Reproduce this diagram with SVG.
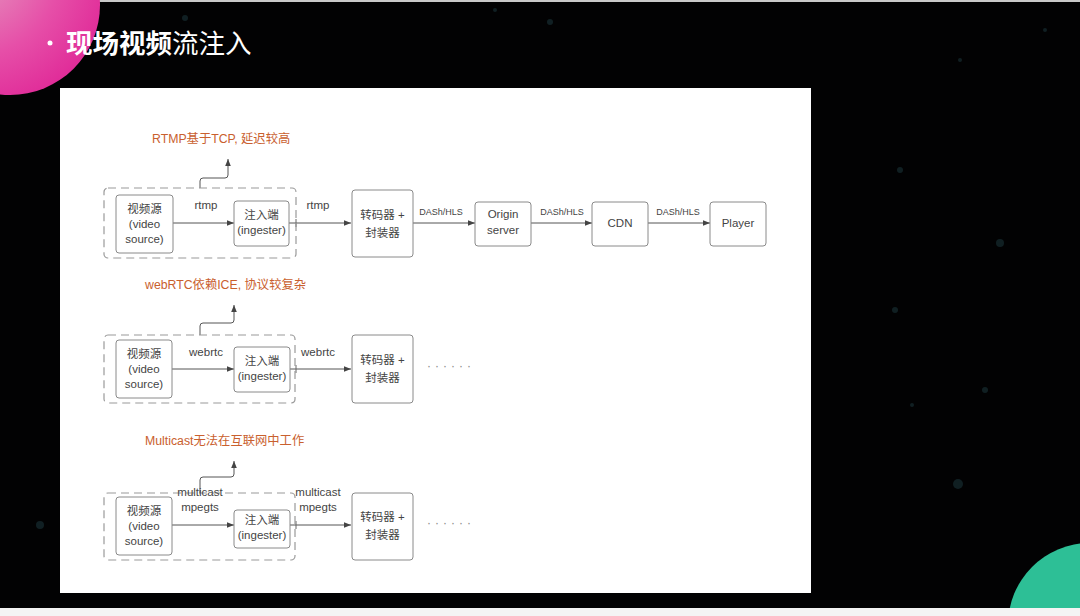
<svg xmlns="http://www.w3.org/2000/svg" width="1080" height="616" viewBox="0 0 1080 616">
<defs>
<style>
.box{fill:#fff;stroke:#8a8a8a;stroke-width:1}
.grp{fill:none;stroke:#9a9a9a;stroke-width:1.2;stroke-dasharray:8 5}
.t{font-family:"Liberation Sans","Noto Sans CJK SC",sans-serif;font-size:11.5px;fill:#444;text-anchor:middle}
.s{font-family:"Liberation Sans","Noto Sans CJK SC",sans-serif;font-size:9px;fill:#444;text-anchor:middle}
.r{font-family:"Liberation Sans","Noto Sans CJK SC",sans-serif;font-size:12.3px;fill:#c9602e;text-anchor:start}
.ln{fill:none;stroke:#555;stroke-width:1;marker-end:url(#ah)}
.dots{font-family:"Liberation Sans",sans-serif;font-size:12px;fill:#888;letter-spacing:4px}
</style>
<marker id="ah" viewBox="0 0 10 10" refX="10" refY="5" markerWidth="7" markerHeight="7" orient="auto" markerUnits="userSpaceOnUse">
<path d="M0 1 L10 5 L0 9 z" fill="#444"/>
</marker>
<radialGradient id="pink" cx="0.3" cy="0.3" r="0.8">
<stop offset="0" stop-color="#e59ac0"/>
<stop offset="0.6" stop-color="#e64fa8"/>
<stop offset="1" stop-color="#e02a98"/>
</radialGradient>
</defs>
<rect width="1080" height="616" fill="#020203"/>
<rect x="0" y="0" width="1080" height="2" fill="#c8c8c8"/>
<g id="stars" fill="#1a3338" opacity="0.6">
<circle cx="185" cy="18" r="3"/><circle cx="550" cy="22" r="3"/><circle cx="495" cy="10" r="2"/>
<circle cx="900" cy="170" r="3"/><circle cx="1000" cy="243" r="4"/><circle cx="895" cy="310" r="3"/>
<circle cx="958" cy="484" r="5"/><circle cx="1045" cy="30" r="2"/><circle cx="960" cy="60" r="2"/>
<circle cx="40" cy="525" r="4"/><circle cx="985" cy="390" r="3"/><circle cx="912" cy="405" r="2"/>
</g>
<circle cx="10" cy="5" r="90" fill="url(#pink)"/>
<circle cx="1090" cy="625" r="82" fill="#2dbf96"/>
<rect x="0" y="608" width="1080" height="8" fill="#f4f4f4"/>
<g id="title">
<circle cx="50" cy="43" r="2.5" fill="#fff"/>
<text x="66" y="53" font-family="'Noto Sans CJK SC',sans-serif" font-size="26.5" fill="#fff"><tspan font-weight="bold">现场视频</tspan><tspan>流注入</tspan></text>
</g>
<rect id="panel" x="60" y="88" width="751" height="505" fill="#fff"/>

<g id="connectors">
<path class="ln" d="M173 223 H234"/>
<path class="ln" d="M289 223 H351"/>
<path d="M296 219 V227" stroke="#666" stroke-width="1"/>
<path class="ln" d="M413 223 H475"/>
<path class="ln" d="M531 223 H592"/>
<path class="ln" d="M648 223 H710"/>
<path class="ln" d="M200 188 V181 Q200 178 203 178 H225 Q228 178 228 175 V159"/>
<path class="ln" d="M172 369 H234"/>
<path class="ln" d="M290 369 H351"/>
<path d="M296 365 V373" stroke="#666" stroke-width="1"/>
<path class="ln" d="M200 335 V326 Q200 323 203 323 H231 Q234 323 234 320 V305"/>
<path class="ln" d="M172 525 H234"/>
<path class="ln" d="M290 525 H351"/>
<path d="M296 521 V529" stroke="#666" stroke-width="1"/>
<path class="ln" d="M200 493 V480 Q200 477 203 477 H231 Q234 477 234 474 V461"/>
</g>

<g id="row1">
<rect class="grp" x="104" y="188" width="192" height="70" rx="4"/>
<text class="r" x="152" y="143">RTMP基于TCP, 延迟较高</text>
<text class="t" x="206" y="209">rtmp</text>
<text class="t" x="318" y="209">rtmp</text>
<text class="s" x="441" y="215">DASh/HLS</text>
<text class="s" x="562" y="215">DASh/HLS</text>
<text class="s" x="678" y="215">DASh/HLS</text>
</g>
<g id="src1"><rect class="box" x="116" y="195" width="57" height="58" rx="3"/>
<text class="t" x="144.5" y="213">视频源</text><text class="t" x="144.5" y="228">(video</text><text class="t" x="144.5" y="243">source)</text></g>
<g id="ing1"><rect class="box" x="234" y="201" width="55" height="45" rx="3"/>
<text class="t" x="261.5" y="219">注入端</text><text class="t" x="261.5" y="234">(ingester)</text></g>
<g id="trans1"><rect class="box" x="352" y="190" width="61" height="67" rx="3"/>
<text class="t" x="382.5" y="219">转码器 +</text><text class="t" x="382.5" y="237">封装器</text></g>
<g id="origin"><rect class="box" x="475" y="202" width="56" height="44" rx="3"/>
<text class="t" x="503" y="218">Origin</text><text class="t" x="503" y="234">server</text></g>
<g id="cdn"><rect class="box" x="592" y="202" width="56" height="44" rx="3"/>
<text class="t" x="620" y="227">CDN</text></g>
<g id="player"><rect class="box" x="710" y="202" width="56" height="44" rx="3"/>
<text class="t" x="738" y="227">Player</text></g>

<g id="row2">
<rect class="grp" x="104" y="335" width="191" height="68" rx="4"/>
<text class="r" x="145" y="289">webRTC依赖ICE, 协议较复杂</text>
<text class="t" x="206" y="356">webrtc</text>
<text class="t" x="318" y="356">webrtc</text>
<text class="dots" x="427" y="370">······</text>
</g>
<g id="src2"><rect class="box" x="116" y="340" width="56" height="58" rx="3"/>
<text class="t" x="144" y="358">视频源</text><text class="t" x="144" y="373">(video</text><text class="t" x="144" y="388">source)</text></g>
<g id="ing2"><rect class="box" x="234" y="347" width="56" height="45" rx="3"/>
<text class="t" x="262" y="365">注入端</text><text class="t" x="262" y="380">(ingester)</text></g>
<g id="trans2"><rect class="box" x="352" y="335" width="61" height="68" rx="3"/>
<text class="t" x="382.5" y="364">转码器 +</text><text class="t" x="382.5" y="382">封装器</text></g>

<g id="row3">
<rect class="grp" x="104" y="493" width="191" height="67" rx="4"/>
<text class="r" x="145" y="445">Multicast无法在互联网中工作</text>
<text class="t" x="200" y="496">multicast</text>
<text class="t" x="200" y="511">mpegts</text>
<text class="t" x="318" y="496">multicast</text>
<text class="t" x="318" y="511">mpegts</text>
<text class="dots" x="427" y="527">······</text>
</g>
<g id="src3"><rect class="box" x="116" y="497" width="56" height="58" rx="3"/>
<text class="t" x="144" y="515">视频源</text><text class="t" x="144" y="530">(video</text><text class="t" x="144" y="545">source)</text></g>
<g id="ing3"><rect class="box" x="234" y="510" width="56" height="38" rx="3"/>
<text class="t" x="262" y="524">注入端</text><text class="t" x="262" y="539">(ingester)</text></g>
<g id="trans3"><rect class="box" x="352" y="493" width="61" height="67" rx="3"/>
<text class="t" x="382.5" y="521">转码器 +</text><text class="t" x="382.5" y="539">封装器</text></g>
</svg>
